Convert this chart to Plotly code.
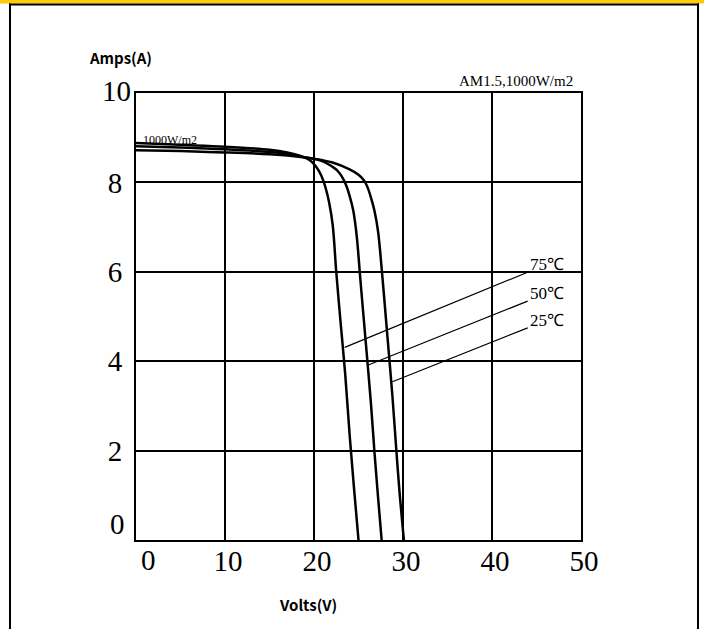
import plotly.graph_objects as go

# ---- data ----
v_75 = [0, 5, 10, 15, 17, 18.5, 19.5, 20.2, 20.8, 21.3, 21.7, 22.1, 22.5, 23.0, 23.5, 24.0, 24.5, 25.0]
i_75 = [8.88, 8.84, 8.80, 8.73, 8.67, 8.59, 8.50, 8.36, 8.16, 7.88, 7.55, 7.05, 6.0, 4.84, 3.73, 2.36, 1.15, 0.0]

v_50 = [0, 5, 10, 15, 17, 18.5, 20, 21, 22, 22.6, 23.1, 23.6, 24.0, 24.4, 24.8, 25.2, 25.6, 26.0, 26.4, 26.8, 27.2, 27.6]
i_50 = [8.81, 8.78, 8.74, 8.68, 8.64, 8.58, 8.53, 8.47, 8.36, 8.27, 8.14, 7.94, 7.70, 7.38, 6.80, 5.85, 4.92, 4.0, 3.05, 1.95, 0.95, 0.0]

v_25 = [0, 5, 10, 15, 17, 18.5, 20, 22, 24, 25, 25.6, 26.0, 26.4, 26.8, 27.2, 27.6, 28.0, 28.4, 28.8, 29.2, 29.6, 30.1]
i_25 = [8.72, 8.70, 8.67, 8.63, 8.60, 8.57, 8.53, 8.45, 8.29, 8.17, 8.05, 7.90, 7.66, 7.36, 6.90, 6.08, 5.15, 4.20, 3.25, 2.15, 1.10, 0.0]

series_names = ["75℃", "50℃", "25℃"]
# where each leader line touches its curve, and where its label sits
leader_tip_v = [23.45, 26.17, 28.81]
leader_tip_i = [4.31, 3.92, 3.54]
label_v = [46.2, 46.2, 46.2]
label_i = [6.17, 5.52, 4.92]

x_tick_vals = [0, 10, 20, 30, 40, 50]
x_tick_text = ["0", "10", "20", "30", "40", "50"]
y_tick_vals = [0, 2, 4, 6, 8, 10]
y_tick_text = ["0", "2", "4", "6", "8", "10"]

x_title = "Volts(V)"
y_title = "Amps(A)"
condition_text = "AM1.5,1000W/m2"
irradiance_text = "1000W/m2"

fig = go.Figure()
for vs, cs, name in [(v_75, i_75, series_names[0]), (v_50, i_50, series_names[1]), (v_25, i_25, series_names[2])]:
    fig.add_trace(go.Scatter(
        x=vs, y=cs, mode="lines", name=name,
        line=dict(color="black", width=2.5, shape="spline", smoothing=1.0),
        showlegend=False, hoverinfo="skip",
    ))

serif = "Liberation Serif, Times New Roman, serif"
sans = "Noto Sans CJK JP, DejaVu Sans, sans-serif"

annotations = []
for name, tv, ti, lv, li in zip(series_names, leader_tip_v, leader_tip_i, label_v, label_i):
    annotations.append(dict(
        x=tv, y=ti, xref="x", yref="y",
        ax=lv, ay=li, axref="x", ayref="y",
        text=name, showarrow=True, arrowhead=0, arrowwidth=1.2,
        arrowcolor="black", standoff=0, borderpad=2,
        font=dict(family=serif, size=17, color="black"),
    ))

# end tick labels positioned as in the reference
annotations.append(dict(x=0, y=0, xref="x", yref="paper", text=x_tick_text[0],
                        showarrow=False, xanchor="center", yanchor="middle",
                        xshift=12.5, yshift=-20,
                        font=dict(family=serif, size=29, color="black")))
annotations.append(dict(x=0, y=y_tick_vals[0], xref="paper", yref="y", text=y_tick_text[0],
                        showarrow=False, xanchor="right", yanchor="middle",
                        xshift=-9, yshift=16,
                        font=dict(family=serif, size=29, color="black")))
annotations.append(dict(x=0, y=y_tick_vals[-1], xref="paper", yref="y", text=y_tick_text[-1],
                        showarrow=False, xanchor="right", yanchor="middle",
                        xshift=-3, yshift=2,
                        font=dict(family=serif, size=29, color="black")))

annotations.append(dict(x=0.0, y=0.0, xref="paper", yref="paper", text=x_title,
                        showarrow=False, xanchor="center", yanchor="middle",
                        xshift=172, yshift=-64,
                        font=dict(family=sans, size=15, color="black", weight="bold")))
annotations.append(dict(x=0.0, y=1.0, xref="paper", yref="paper", text=y_title,
                        showarrow=False, xanchor="center", yanchor="middle",
                        xshift=-16, yshift=36,
                        font=dict(family=sans, size=15, color="black", weight="bold")))
annotations.append(dict(x=1.0, y=1.0, xref="paper", yref="paper", text=condition_text,
                        showarrow=False, xanchor="right", yanchor="middle",
                        xshift=-6, yshift=12,
                        font=dict(family=serif, size=15, color="black")))
annotations.append(dict(x=0.0, y=0.0, xref="paper", yref="paper", text=irradiance_text,
                        showarrow=False, xanchor="left", yanchor="middle",
                        xshift=5, yshift=400,
                        font=dict(family=serif, size=12, color="black")))

# page frame: yellow header band, black rule, side borders
L, R, T, B = 136, 123, 93, 89
W, H = 704, 629
pw, ph = W - L - R, H - T - B
def px_x(p):
    return (p - L) / pw
def px_y(p):
    return (H - B - p) / ph

shapes = [
    dict(type="rect", xref="paper", yref="paper", x0=px_x(0), x1=px_x(W), y0=px_y(0), y1=px_y(3.5),
         fillcolor="#FFCC00", line=dict(width=0), layer="above"),
    dict(type="rect", xref="paper", yref="paper", x0=px_x(9), x1=px_x(699), y0=px_y(3.5), y1=px_y(5.5),
         fillcolor="black", line=dict(width=0), layer="above"),
    dict(type="rect", xref="paper", yref="paper", x0=px_x(9), x1=px_x(11), y0=px_y(3.5), y1=px_y(H),
         fillcolor="black", line=dict(width=0), layer="above"),
    dict(type="rect", xref="paper", yref="paper", x0=px_x(697), x1=px_x(699), y0=px_y(3.5), y1=px_y(H),
         fillcolor="black", line=dict(width=0), layer="above"),
]

fig.update_layout(
    width=W, height=H, autosize=False,
    margin=dict(l=L, r=R, t=T, b=B, pad=0),
    paper_bgcolor="white", plot_bgcolor="white",
    annotations=annotations, shapes=shapes,
    showlegend=False,
)
fig.update_xaxes(
    range=[0, 50], tickvals=x_tick_vals[1:], ticktext=x_tick_text[1:],
    showgrid=True, gridcolor="black", gridwidth=1.5,
    showline=True, linecolor="black", linewidth=2, mirror=True,
    zeroline=False, ticks="", ticklabelshift=3, ticklabelstandoff=-6,
    tickfont=dict(family=serif, size=29, color="black"),
)
fig.update_yaxes(
    range=[0, 10], tickvals=y_tick_vals[1:-1], ticktext=y_tick_text[1:-1],
    showgrid=True, gridcolor="black", gridwidth=1.5,
    showline=True, linecolor="black", linewidth=2, mirror=True,
    zeroline=False, ticks="", ticklabelstandoff=6,
    tickfont=dict(family=serif, size=29, color="black"),
)

fig.write_html(
    "out.html",
    config={"displayModeBar": False},
    post_script="document.body.style.margin='0';document.body.style.overflow='hidden';",
)
